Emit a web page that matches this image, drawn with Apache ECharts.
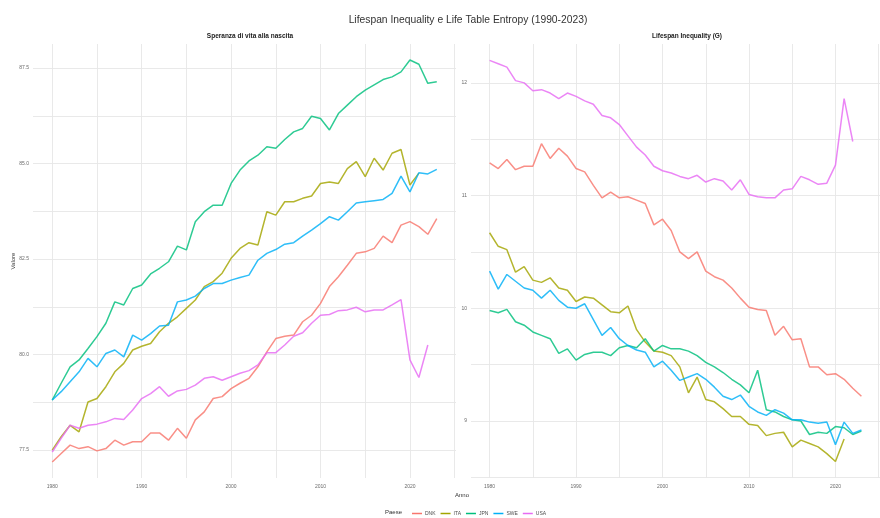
<!DOCTYPE html>
<html>
<head>
<meta charset="utf-8">
<script src="https://cdn.jsdelivr.net/npm/echarts@6/dist/echarts.min.js"></script>
<style>
  html, body { margin: 0; padding: 0; background: #fff; }
  #chart { width: 880px; height: 518px; }
</style>
</head>
<body>
<div id="chart"></div>
<script>
// Years on the x axis
const years = [1980, 1981, 1982, 1983, 1984, 1985, 1986, 1987, 1988, 1989,
  1990, 1991, 1992, 1993, 1994, 1995, 1996, 1997, 1998, 1999,
  2000, 2001, 2002, 2003, 2004, 2005, 2006, 2007, 2008, 2009,
  2010, 2011, 2012, 2013, 2014, 2015, 2016, 2017, 2018, 2019,
  2020, 2021, 2022, 2023];

const countries = ['DNK', 'ITA', 'JPN', 'SWE', 'USA'];
const colors = ['#F8766D', '#A3A500', '#00BF7D', '#00B0F6', '#E76BF3'];

// Speranza di vita alla nascita
const e0DNK = [77.19, 77.41, 77.63, 77.54, 77.59, 77.48, 77.54, 77.76, 77.63, 77.72,
  77.72, 77.95, 77.95, 77.76, 78.07, 77.81, 78.29, 78.50, 78.85, 78.90,
  79.11, 79.25, 79.38, 79.68, 80.07, 80.42, 80.48, 80.51, 80.86, 81.03,
  81.34, 81.78, 82.04, 82.34, 82.65, 82.69, 82.78, 83.10, 82.93, 83.39,
  83.48, 83.35, 83.15, 83.56];
const e0ITA = [77.50, 77.85, 78.15, 77.98, 78.76, 78.85, 79.16, 79.55, 79.77, 80.12,
  80.22, 80.29, 80.60, 80.82, 80.99, 81.21, 81.43, 81.78, 81.91, 82.13,
  82.52, 82.78, 82.93, 82.87, 83.74, 83.65, 84.00, 84.00, 84.09, 84.15,
  84.48, 84.52, 84.48, 84.87, 85.05, 84.66, 85.14, 84.83, 85.27, 85.37,
  84.44, 84.75];
const e0JPN = [78.81, 79.25, 79.68, 79.86, 80.16, 80.47, 80.82, 81.38, 81.30, 81.73,
  81.82, 82.11, 82.26, 82.43, 82.84, 82.74, 83.48, 83.74, 83.91, 83.91,
  84.48, 84.83, 85.07, 85.22, 85.44, 85.40, 85.63, 85.83, 85.92, 86.24,
  86.18, 85.88, 86.31, 86.53, 86.75, 86.92, 87.06, 87.20, 87.27, 87.40,
  87.71, 87.60, 87.10, 87.14];
const e0SWE = [78.81, 79.03, 79.29, 79.55, 79.90, 79.68, 80.03, 80.12, 79.94, 80.51,
  80.38, 80.55, 80.75, 80.77, 81.38, 81.43, 81.53, 81.73, 81.86, 81.86,
  81.95, 82.02, 82.08, 82.47, 82.65, 82.75, 82.89, 82.93, 83.10, 83.26,
  83.43, 83.61, 83.52, 83.74, 83.97, 84.00, 84.03, 84.06, 84.22, 84.67,
  84.26, 84.76, 84.73, 84.85];
const e0USA = [77.45, 77.81, 78.15, 78.07, 78.15, 78.18, 78.24, 78.33, 78.30, 78.55,
  78.85, 78.98, 79.16, 78.91, 79.05, 79.09, 79.20, 79.38, 79.42, 79.33,
  79.42, 79.51, 79.58, 79.73, 80.05, 80.05, 80.25, 80.48, 80.57, 80.82,
  81.03, 81.05, 81.15, 81.17, 81.24, 81.12, 81.17, 81.17, 81.30, 81.44,
  79.86, 79.40, 80.25];

// Lifespan Inequality (G)
const gDNK = [11.29, 11.24, 11.32, 11.23, 11.26, 11.26, 11.46, 11.33, 11.42, 11.35,
  11.24, 11.21, 11.09, 10.98, 11.03, 10.98, 10.99, 10.96, 10.93, 10.74,
  10.79, 10.69, 10.50, 10.44, 10.50, 10.33, 10.28, 10.25, 10.18, 10.09,
  10.01, 9.99, 9.98, 9.76, 9.84, 9.72, 9.73, 9.48, 9.48, 9.41,
  9.42, 9.37, 9.29, 9.22];
const gITA = [10.67, 10.55, 10.52, 10.32, 10.37, 10.25, 10.23, 10.27, 10.18, 10.16,
  10.06, 10.10, 10.09, 10.03, 9.97, 9.96, 10.02, 9.81, 9.70, 9.62,
  9.61, 9.58, 9.48, 9.25, 9.39, 9.19, 9.17, 9.11, 9.04, 9.04,
  8.97, 8.96, 8.87, 8.89, 8.90, 8.77, 8.83, 8.80, 8.77, 8.71,
  8.64, 8.84];
const gJPN = [9.98, 9.96, 9.99, 9.88, 9.85, 9.79, 9.76, 9.73, 9.60, 9.64,
  9.54, 9.59, 9.61, 9.61, 9.58, 9.65, 9.67, 9.65, 9.73, 9.62,
  9.67, 9.64, 9.64, 9.62, 9.58, 9.52, 9.48, 9.43, 9.37, 9.32,
  9.25, 9.45, 9.10, 9.08, 9.04, 9.01, 9.00, 8.88, 8.90, 8.89,
  8.95, 8.94, 8.88, 8.91];
const gSWE = [10.33, 10.17, 10.30, 10.24, 10.18, 10.16, 10.09, 10.16, 10.07, 10.01,
  10.00, 10.04, 9.90, 9.76, 9.83, 9.73, 9.67, 9.63, 9.61, 9.48,
  9.53, 9.45, 9.36, 9.39, 9.42, 9.37, 9.30, 9.22, 9.19, 9.23,
  9.13, 9.08, 9.05, 9.10, 9.07, 9.01, 9.01, 8.99, 8.98, 8.99,
  8.79, 8.99, 8.89, 8.92];
const gUSA = [12.20, 12.17, 12.14, 12.02, 12.00, 11.93, 11.94, 11.91, 11.86, 11.91,
  11.88, 11.84, 11.81, 11.71, 11.69, 11.63, 11.53, 11.43, 11.36, 11.26,
  11.22, 11.20, 11.17, 11.15, 11.18, 11.12, 11.15, 11.13, 11.05, 11.14,
  11.01, 10.99, 10.98, 10.98, 11.05, 11.06, 11.17, 11.14, 11.10, 11.11,
  11.27, 11.86, 11.48];

// Tick positions (gridlines) and labels
const xTicks = [1980, 1985, 1990, 1995, 2000, 2005, 2010, 2015, 2020, 2025];
const xLabels = [1980, 1990, 2000, 2010, 2020];
const e0Ticks = [77.5, 78.75, 80, 81.25, 82.5, 83.75, 85, 86.25, 87.5];
const e0Labels = [77.5, 80, 82.5, 85, 87.5];
const gTicks = [8.5, 9, 9.5, 10, 10.5, 11, 11.5, 12];
const gLabels = [9, 10, 11, 12];

const e0Data = [e0DNK, e0ITA, e0JPN, e0SWE, e0USA];
const gData = [gDNK, gITA, gJPN, gSWE, gUSA];

const font = 'Liberation Sans, Arial, sans-serif';
const gridColor = '#E6E6E6';

function toPairs(values) {
    return values.map((v, i) => [years[i], v]);
}

function makeXAxis(gridIndex) {
    return {
        type: 'value', gridIndex: gridIndex,
        min: 1977.85, max: 2025.15,
        axisLine: { show: false },
        axisTick: { show: false, customValues: xTicks },
        axisLabel: {
            customValues: xLabels, fontSize: 5, color: '#6b6b6b',
            fontFamily: font, margin: 6, formatter: v => String(v)
        },
        splitLine: { show: true, lineStyle: { color: gridColor, width: 0.9 } }
    };
}

function makeYAxis(gridIndex, min, max, ticks, labels, fmt) {
    return {
        type: 'value', gridIndex: gridIndex,
        min: min, max: max,
        axisLine: { show: false },
        axisTick: { show: false, customValues: ticks },
        axisLabel: {
            customValues: labels, fontSize: 5, color: '#6b6b6b',
            fontFamily: font, margin: 4, formatter: fmt
        },
        splitLine: { show: true, lineStyle: { color: gridColor, width: 0.9 } }
    };
}

const series = [];
countries.forEach((c, k) => {
    series.push({
        name: c, type: 'line', xAxisIndex: 0, yAxisIndex: 0,
        data: toPairs(e0Data[k]), symbol: 'none',
        lineStyle: { width: 1.5, color: colors[k], opacity: 0.82 }, itemStyle: { color: colors[k] }
    });
    series.push({
        name: c, type: 'line', xAxisIndex: 1, yAxisIndex: 1,
        data: toPairs(gData[k]), symbol: 'none',
        lineStyle: { width: 1.5, color: colors[k], opacity: 0.82 }, itemStyle: { color: colors[k] }
    });
});

var chart = echarts.init(document.getElementById('chart'), null, { renderer: 'canvas' });
var option = {
    backgroundColor: '#ffffff',
    animation: false,
    title: [
        { text: 'Lifespan Inequality e Life Table Entropy (1990-2023)', left: 463, top: 10, textAlign: 'center',
          textStyle: { fontSize: 10.3, fontWeight: 'normal', color: '#333', fontFamily: font } },
        { text: 'Speranza di vita alla nascita', left: 245, top: 28, textAlign: 'center',
          textStyle: { fontSize: 6.5, fontWeight: 'bold', color: '#1a1a1a', fontFamily: font } },
        { text: 'Lifespan Inequality (G)', left: 682, top: 28, textAlign: 'center',
          textStyle: { fontSize: 6.5, fontWeight: 'bold', color: '#1a1a1a', fontFamily: font } }
    ],
    grid: [
        { left: 33, top: 44, width: 423, height: 434 },
        { left: 471, top: 44, width: 422, height: 434 }
    ],
    xAxis: [makeXAxis(0), makeXAxis(1)],
    yAxis: [
        makeYAxis(0, 76.77, 88.13, e0Ticks, e0Labels, v => v.toFixed(1)),
        makeYAxis(1, 8.494, 12.345, gTicks, gLabels, v => String(v))
    ],
    legend: {
        data: countries, left: 407, top: 506, icon: 'rect',
        itemWidth: 10, itemHeight: 1.5, itemGap: 5,
        textStyle: { fontSize: 5, color: '#4d4d4d', fontFamily: font, padding: [0, 0, 0, -2] }
    },
    graphic: [
        { type: 'text', left: 385, top: 509.5, style: { text: 'Paese', fontSize: 6, fill: '#333', fontFamily: font } },
        { type: 'text', left: 455, top: 492, style: { text: 'Anno', fontSize: 6, fill: '#333', fontFamily: font } },
        { type: 'text', x: 13, y: 261, rotation: Math.PI / 2, style: { text: 'Valore', fontSize: 6, fill: '#333',
          fontFamily: font, align: 'center', verticalAlign: 'middle' } }
    ],
    series: series
};
option && chart.setOption(option);
</script>
</body>
</html>
